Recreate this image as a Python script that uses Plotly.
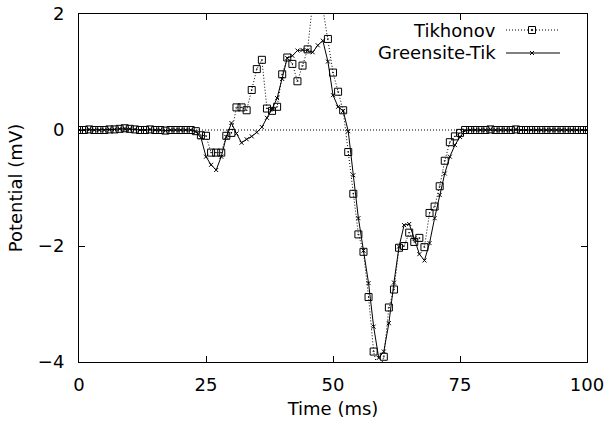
import plotly.graph_objects as go

time_ms = list(range(0, 101))

tikhonov = [
    0, 0, 0.01, 0, 0, 0, 0.01, 0.01, 0.02, 0.03,
    0.02, 0.01, 0, 0, 0.01, 0, 0, -0.01, 0, 0,
    0, 0, 0, -0.02, -0.09, -0.10, -0.39, -0.39, -0.39, -0.10,
    -0.05, 0.39, 0.39, 0.34, 0.69, 1.05, 1.21, 0.37, 0.33, 0.40,
    0.96, 1.25, 1.14, 0.84, 1.11, 1.39, 2.2, 2.6, 2.1, 1.57,
    0.99, 0.66, 0.34, -0.38, -1.10, -1.80, -2.10, -2.88, -3.82, -4.2,
    -3.91, -3.06, -2.75, -2.03, -2.00, -1.77, -1.93, -1.86, -2.02, -1.43,
    -1.32, -0.97, -0.53, -0.21, -0.11, -0.05, 0, 0, 0, 0,
    0, 0.01, 0, 0, 0, 0, 0.01, 0, 0, 0,
    0, 0, 0, 0, 0, 0, 0, 0, 0, 0,
    0,
]

greensite = [
    0, 0, 0.01, 0, 0, 0, 0.01, 0.01, 0.02, 0.02,
    0.02, 0.01, 0, 0, 0.01, 0, 0, -0.01, 0, 0,
    0, 0, 0, -0.03, -0.13, -0.46, -0.60, -0.69, -0.46, -0.12,
    0.12, -0.06, -0.22, -0.16, -0.11, -0.04, 0.05, 0.21, 0.36, 0.55,
    0.88, 1.24, 1.28, 1.37, 1.38, 1.37, 1.34, 1.46, 1.54, 1.18,
    0.60, 0.40, 0.33, -0.02, -0.78, -1.52, -2.08, -2.64, -3.39, -3.93,
    -3.82, -3.33, -2.63, -2.01, -1.64, -1.62, -1.87, -2.14, -2.25, -1.95,
    -1.52, -1.12, -0.75, -0.46, -0.26, -0.12, -0.01, 0, 0, 0,
    0, 0.01, 0, 0, 0, 0, 0.01, 0, 0, 0,
    0, 0, 0, 0, 0, 0, 0, 0, 0, 0,
    0,
]

x_ticks = [0, 25, 50, 75, 100]
y_ticks = [-4, -2, 0, 2]
series_names = ["Tikhonov", "Greensite-Tik"]

FONT = "DejaVu Sans"
DOT = "1px,2px"

fig = go.Figure()
fig.add_trace(go.Scatter(
    x=time_ms, y=tikhonov, mode="lines+markers", name=series_names[0],
    line=dict(color="black", width=1, dash=DOT),
    marker=dict(symbol="square-open-dot", size=7, color="black",
                line=dict(width=1, color="black")),
))
fig.add_trace(go.Scatter(
    x=time_ms, y=greensite, mode="lines+markers", name=series_names[1],
    line=dict(color="black", width=1),
    marker=dict(symbol="x-thin", size=4, color="black",
                line=dict(width=1, color="black")),
))

W, H = 604, 432
L, R, T, B = 79, 17, 14, 70
pw, ph = W - L - R, H - T - B

def px2paper(xp, yp):
    return (xp - L) / pw, (H - B - yp) / ph

shapes = [dict(type="line", xref="paper", yref="y", x0=0, x1=1, y0=0, y1=0,
               line=dict(color="black", width=1, dash=DOT), layer="below")]
annotations = []

legend_rows = [(series_names[0], 30, DOT, "square"), (series_names[1], 53, "solid", "x")]
for name, yp, dash, mk in legend_rows:
    xr, yy = px2paper(498, yp)
    annotations.append(dict(text=name, x=xr, y=yy, xref="paper", yref="paper",
                            xanchor="right", yanchor="middle", showarrow=False,
                            font=dict(family=FONT, size=18, color="black")))
    x0, _ = px2paper(506, yp)
    x1, _ = px2paper(560, yp)
    shapes.append(dict(type="line", xref="paper", yref="paper", x0=x0, x1=x1,
                       y0=yy, y1=yy, line=dict(color="black", width=1, dash=dash)))
    cx, cy = 532, yp
    if mk == "square":
        a0, b0 = px2paper(cx - 3.5, cy + 3.5)
        a1, b1 = px2paper(cx + 3.5, cy - 3.5)
        shapes.append(dict(type="rect", xref="paper", yref="paper", x0=a0, x1=a1,
                           y0=b0, y1=b1, line=dict(color="black", width=1),
                           fillcolor="white"))
        d0, e0 = px2paper(cx - 0.6, cy + 0.6)
        d1, e1 = px2paper(cx + 0.6, cy - 0.6)
        shapes.append(dict(type="rect", xref="paper", yref="paper", x0=d0, x1=d1,
                           y0=e0, y1=e1, line=dict(color="black", width=1),
                           fillcolor="black"))
    else:
        for dx in (-1, 1):
            a0, b0 = px2paper(cx - 2, cy - 2 * dx)
            a1, b1 = px2paper(cx + 2, cy + 2 * dx)
            shapes.append(dict(type="line", xref="paper", yref="paper", x0=a0, x1=a1,
                               y0=b0, y1=b1, line=dict(color="black", width=1)))

axis_common = dict(showline=True, linecolor="black", linewidth=1, mirror="ticks",
                   ticks="inside", ticklen=6, tickcolor="black", tickwidth=1,
                   showgrid=False, zeroline=False, automargin=False,
                   ticklabeloverflow="allow",
                   tickfont=dict(family=FONT, size=18, color="black"))

fig.update_layout(
    width=W, height=H, margin=dict(l=L, r=R, t=T, b=B, autoexpand=False),
    paper_bgcolor="white", plot_bgcolor="white", showlegend=False,
    shapes=shapes, annotations=annotations,
    xaxis=dict(range=[0, 100], tickvals=x_ticks, ticklabelstandoff=6,
               title=dict(text="Time (ms)", standoff=8,
                          font=dict(family=FONT, size=18, color="black")),
               **axis_common),
    yaxis=dict(range=[-4, 2], tickvals=y_ticks, ticklabelstandoff=10,
               title=dict(text="Potential (mV)", standoff=10,
                          font=dict(family=FONT, size=18, color="black")),
               **axis_common),
)

fig.write_html("out.html")
